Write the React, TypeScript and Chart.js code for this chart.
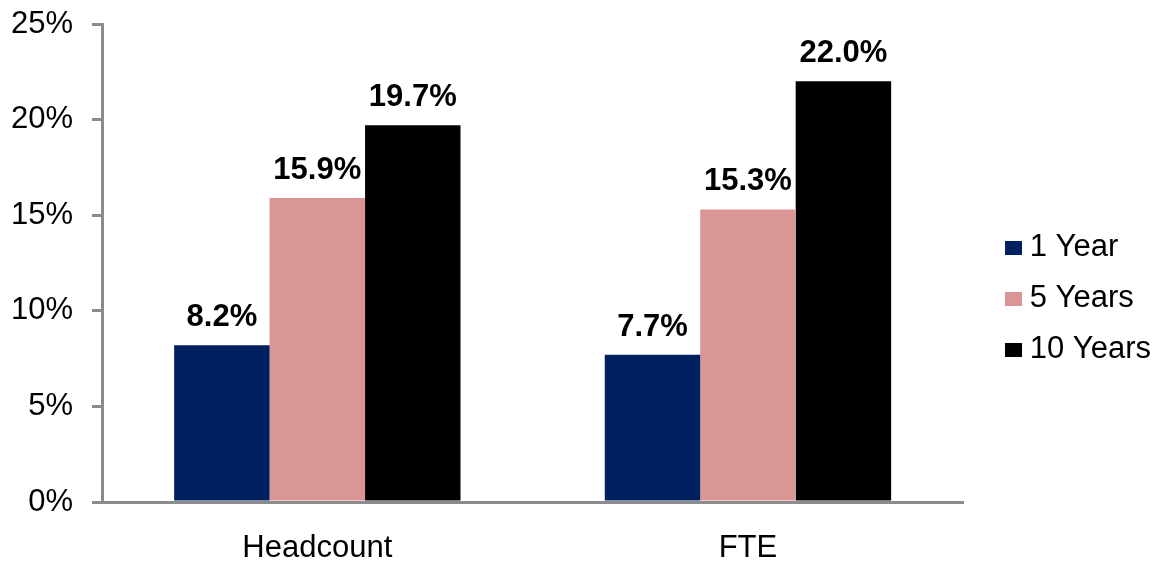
import React, { useEffect, useRef } from 'react';
import { Chart, registerables } from 'chart.js';

Chart.register(...registerables);

const categories = ['Headcount', 'FTE'];
const seriesNames = ['1 Year', '5 Years', '10 Years'];
const oneYear = [8.2, 7.7];
const fiveYears = [15.9, 15.3];
const tenYears = [19.7, 22.0];
const yMin = 0;
const yMax = 25;
const yStep = 5;

const seriesColors = ['#002060', '#D99694', '#000000'];
const axisGray = '#8C8C8C';
const FONT = '"Liberation Sans", Arial, Helvetica, sans-serif';
const FS = 31;

const valueLabels = {
  id: 'valueLabels',
  afterDatasetsDraw(chart: any) {
    const ctx = chart.ctx;
    ctx.save();
    ctx.font = `bold ${FS}px ${FONT}`;
    ctx.fillStyle = '#000000';
    ctx.textAlign = 'center';
    ctx.textBaseline = 'alphabetic';
    chart.data.datasets.forEach((ds: any, i: number) => {
      const meta = chart.getDatasetMeta(i);
      meta.data.forEach((bar: any, j: number) => {
        const v = ds.data[j] as number;
        ctx.fillText(v.toFixed(1) + '%', bar.x, bar.y - 19);
      });
    });
    ctx.restore();
  },
};

function makeSwatch(color: string) {
  const cv = document.createElement('canvas');
  cv.width = 17;
  cv.height = 14;
  const g = cv.getContext('2d');
  if (g) {
    g.fillStyle = color;
    g.fillRect(0, 0, 17, 14);
  }
  return cv;
}

export default function App() {
  const canvasRef = useRef<HTMLCanvasElement | null>(null);

  useEffect(() => {
    document.body.style.margin = '0';
    const canvas = canvasRef.current;
    if (!canvas) return;
    const seriesData = [oneYear, fiveYears, tenYears];
    const swatches = seriesColors.map(makeSwatch);
    const defaultGen = (Chart.defaults as any).plugins.legend.labels.generateLabels;
    const chart = new Chart(canvas, {
      type: 'bar',
      data: {
        labels: categories,
        datasets: seriesNames.map((name, i) => ({
          label: name,
          data: seriesData[i],
          backgroundColor: seriesColors[i],
          borderWidth: 0,
          categoryPercentage: 0.665,
          barPercentage: 1.0,
        })),
      },
      options: {
        animation: false,
        responsive: true,
        maintainAspectRatio: false,
        layout: { padding: { top: 24, left: 0, right: 0, bottom: 0 } },
        plugins: {
          tooltip: { enabled: false },
          legend: {
            position: 'right',
            align: 'center',
            title: {
              display: true,
              text: ' ',
              padding: 0,
              font: { family: FONT, size: 8, lineHeight: 1 },
            },
            labels: {
              usePointStyle: true,
              pointStyleWidth: 2,
              boxHeight: 17,
              padding: 20,
              color: '#000000',
              font: { family: FONT, size: FS },
              generateLabels: (c: any) =>
                defaultGen(c).map((it: any) => ({
                  ...it,
                  pointStyle: swatches[it.datasetIndex],
                })),
            },
          },
        },
        scales: {
          x: {
            grid: { display: false, drawTicks: false },
            border: { display: true, color: axisGray, width: 3 },
            ticks: {
              color: '#000000',
              font: { family: FONT, size: FS },
              padding: 28,
            },
            afterFit: (s: any) => {
              s.height = 63;
              s.paddingLeft = 0;
              s.paddingRight = 0;
            },
          },
          y: {
            min: yMin,
            max: yMax,
            grid: {
              drawOnChartArea: false,
              tickLength: 10,
              color: axisGray,
              lineWidth: 3,
            },
            border: { display: true, color: axisGray, width: 3 },
            ticks: {
              stepSize: yStep,
              color: '#000000',
              font: { family: FONT, size: FS },
              padding: 19,
              callback: (v: any) => v + '%',
            },
            afterFit: (s: any) => {
              s.width = 102;
              s.paddingTop = 0;
              s.paddingBottom = 0;
            },
          },
          spacer: {
            type: 'linear',
            position: 'right',
            display: true,
            grid: { display: false, drawTicks: false },
            border: { display: false },
            ticks: { display: false },
            afterFit: (s: any) => {
              s.width = 29;
              s.paddingTop = 0;
              s.paddingBottom = 0;
            },
          },
        },
      },
      plugins: [valueLabels],
    });
    return () => chart.destroy();
  }, []);

  return (
    <div style={{ width: 1161, height: 565, position: 'relative' }}>
      <canvas ref={canvasRef} />
    </div>
  );
}
